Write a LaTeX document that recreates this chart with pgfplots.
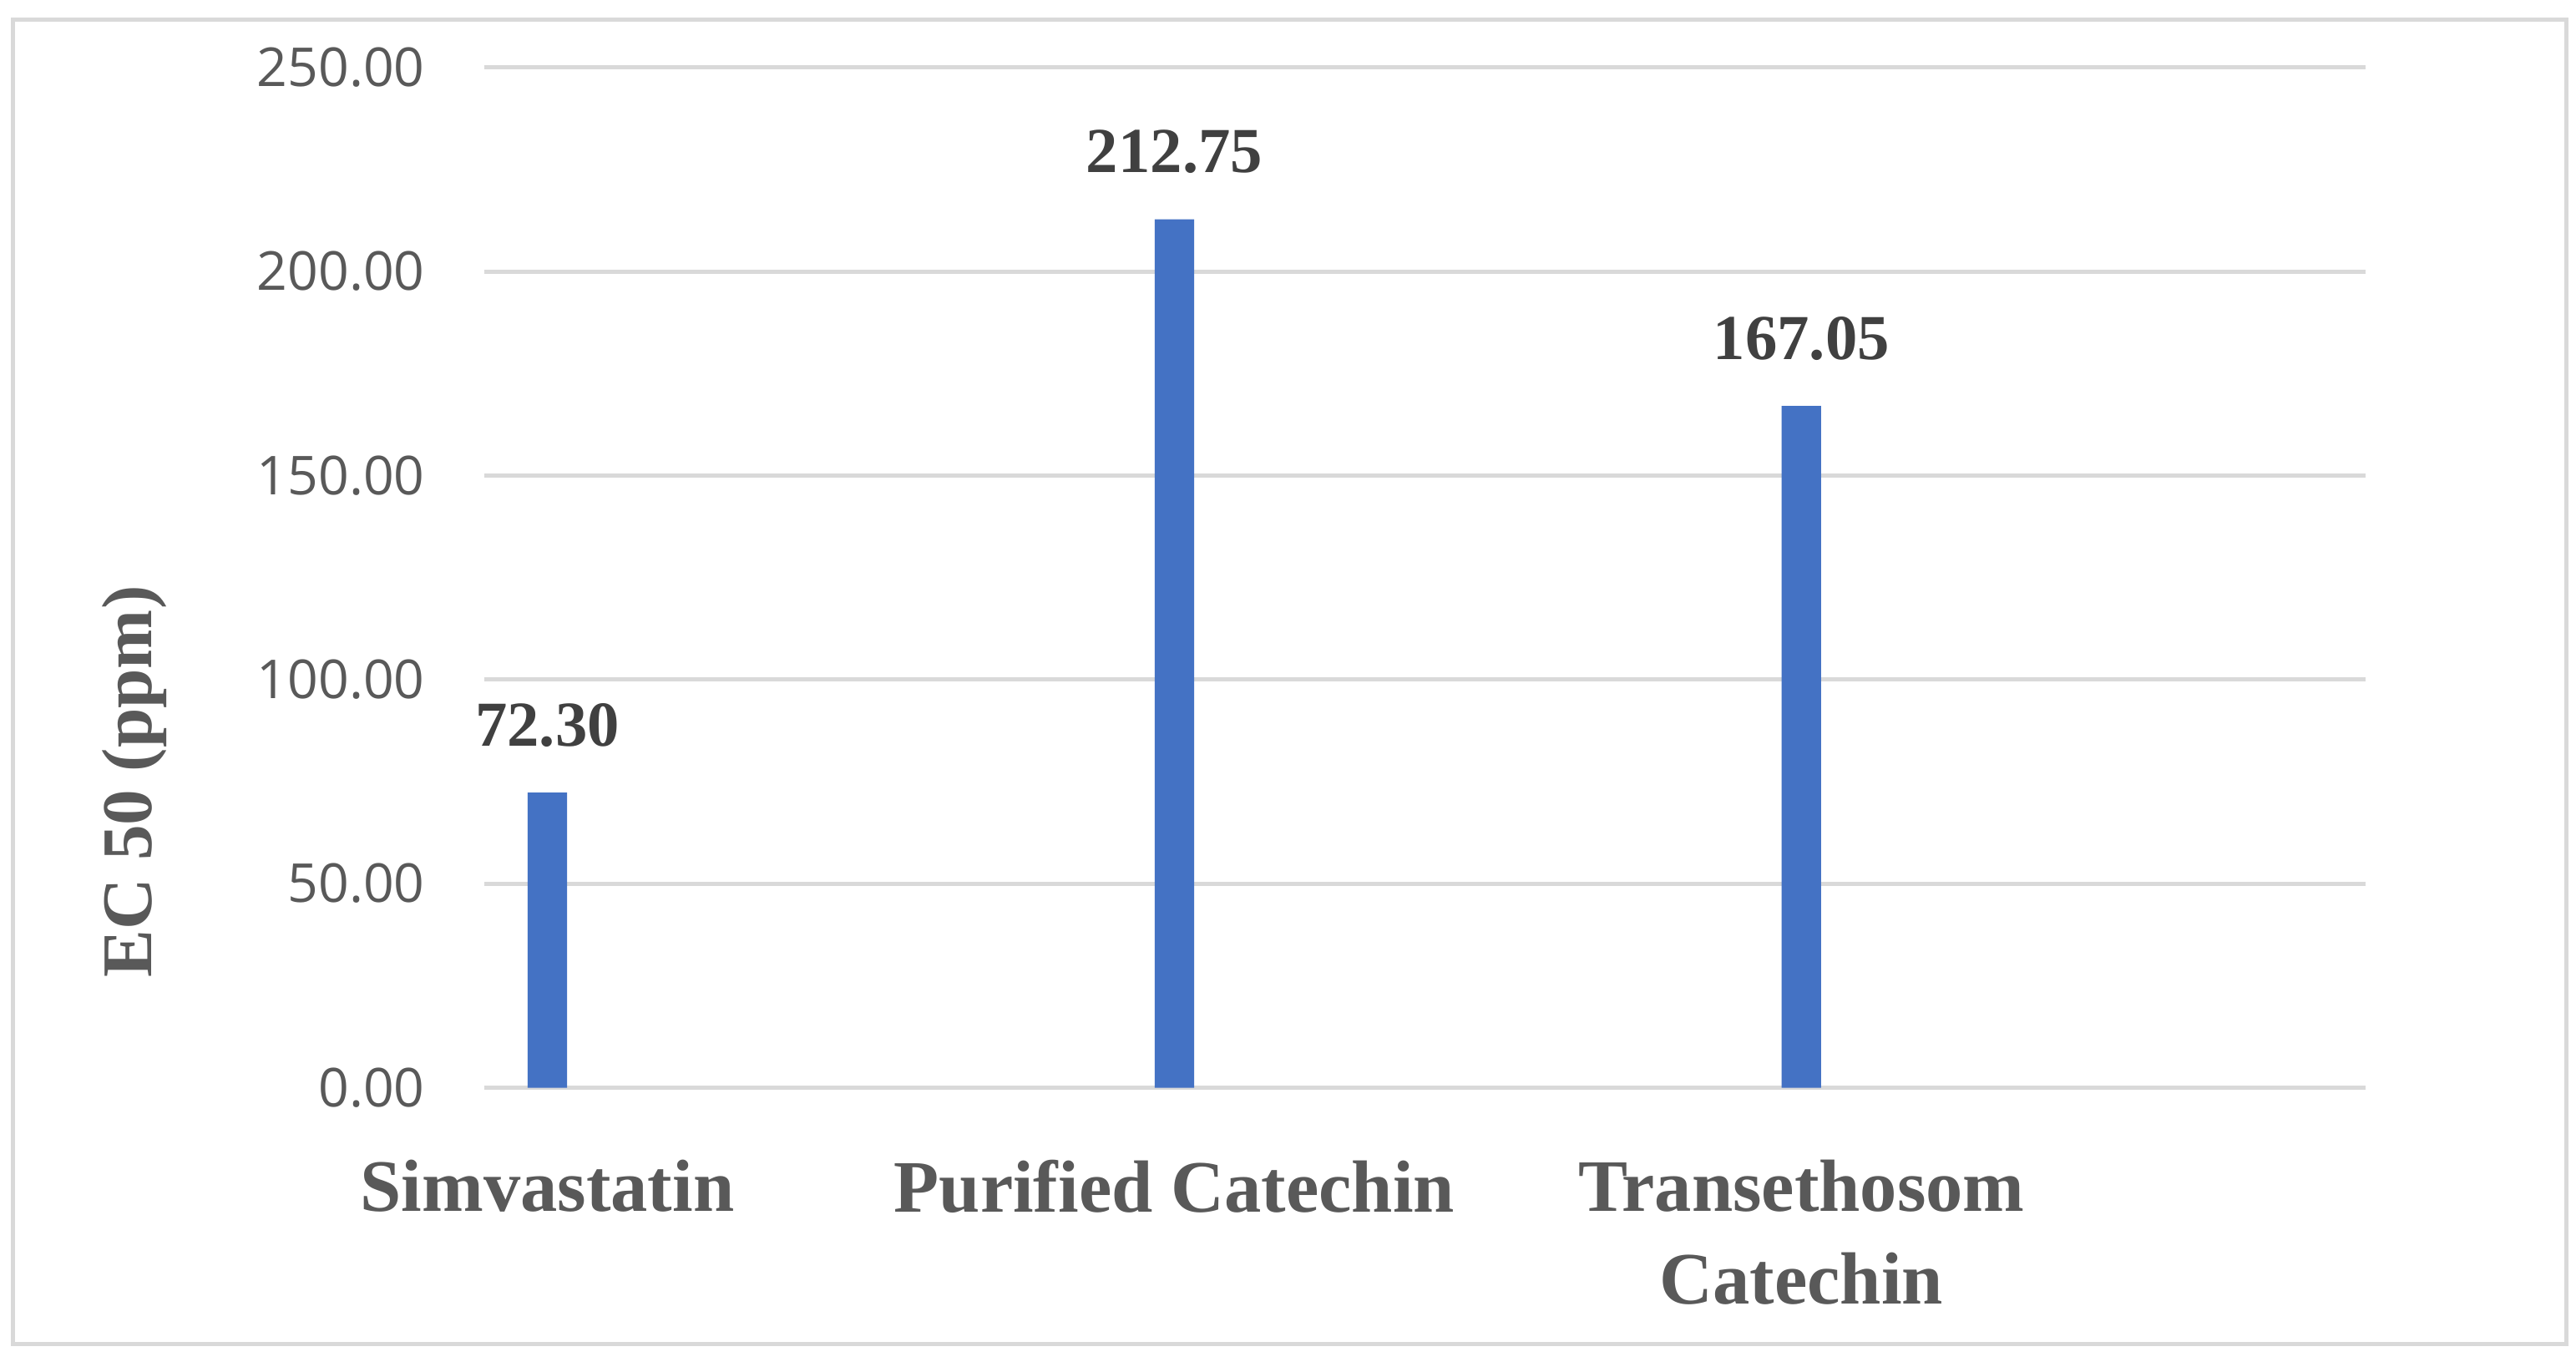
\documentclass[border=0pt]{standalone}
\usepackage{pgfplots}
\pgfplotsset{compat=1.18}
\usepackage{fontspec}
\setmainfont{Liberation Serif}
\newfontfamily\tickfont{Open Sans}
\definecolor{barblue}{HTML}{4472C4}
\definecolor{gridgray}{HTML}{D9D9D9}
\definecolor{txtgray}{HTML}{595959}
\definecolor{lblgray}{HTML}{404040}
\begin{document}
\begin{tikzpicture}
\begin{axis}[
  at={(0,0)}, anchor=south west,
  scale only axis,
  width=343.5pt, height=186.3pt,
  xmin=-0.1, xmax=2.9,
  ymin=0, ymax=250,
  ytick={0,50,100,150,200,250},
  xtick={0,1,2},
  xticklabels={Simvastatin, Purified Catechin, {Transethosom\\Catechin}},
  /pgf/number format/assume math mode=true,
  /pgf/number format/.cd, fixed, fixed zerofill, precision=2, /pgfplots/.cd,
  yticklabel style={font=\tickfont\fontsize{9.8}{11}\selectfont, text=txtgray, anchor=east, xshift=-7.4pt},
  xticklabel style={font=\bfseries\fontsize{13.5}{17}\selectfont, text=txtgray, align=center, anchor=north, inner sep=0pt, yshift=-13pt},
  major tick length=0pt,
  axis line style={draw=none},
  ymajorgrids,
  grid style={color=gridgray, line width=0.75pt},
  ylabel={EC 50 (ppm)},
  every axis y label/.style={at={(axis description cs:-0.186,0.30)}, rotate=90, anchor=center, font=\bfseries\fontsize{13}{16}\selectfont, text=txtgray},
  clip=false,
]
\addplot[ybar, bar width=7.2pt, fill=barblue, draw=none,
  nodes near coords={\pgfmathprintnumber[fixed,fixed zerofill,precision=2,assume math mode=true]{\pgfplotspointmeta}},
  every node near coord/.append style={anchor=base, yshift=8.5pt, font=\bfseries\fontsize{11.7}{14}\selectfont, text=lblgray}]
  coordinates {(0,72.30) (1,212.75) (2,167.05)};
\end{axis}
\draw[gridgray, line width=0.7pt] (-86.1pt,-46.8pt) rectangle (380.1pt,195pt);
\pgfresetboundingbox
\path[use as bounding box] (-88.5pt,-51pt) rectangle (381.9pt,198.6pt);
\end{tikzpicture}
\end{document}
